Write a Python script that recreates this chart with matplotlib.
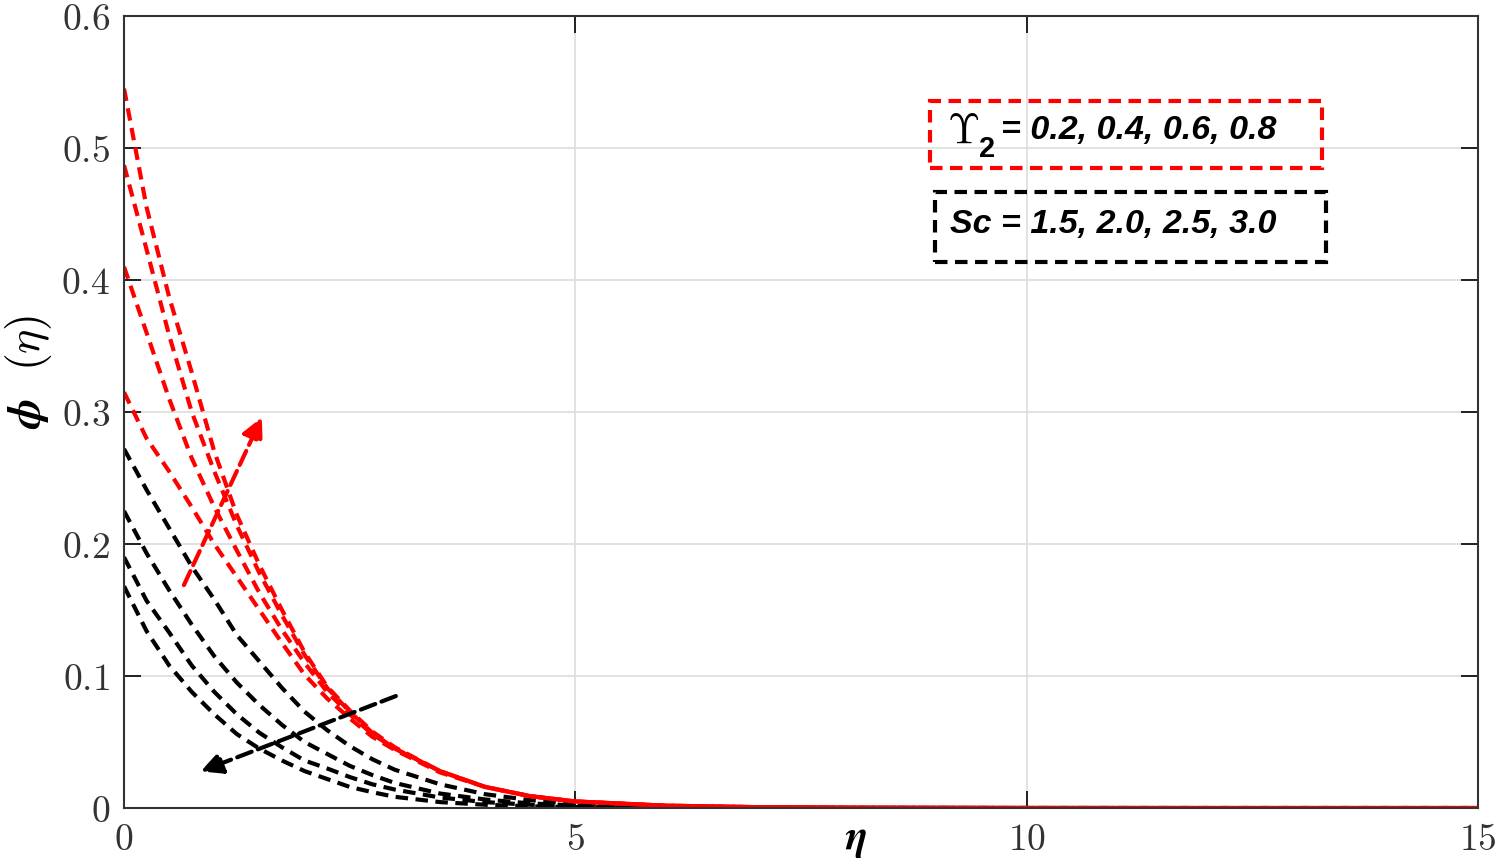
"""
concentration profile phi(eta) for several Upsilon_2 and Sc values
"""
import matplotlib
matplotlib.use("Agg")
from matplotlib import pyplot as plt
from matplotlib.patches import Rectangle
from matplotlib.ticker import FuncFormatter

plt.rcParams['mathtext.fontset'] = 'cm'

# data
eta = [0, 0.25, 0.5, 0.75, 1, 1.25, 1.5, 1.75, 2, 2.25, 2.5, 2.75, 3,
       3.5, 4, 4.5, 5, 6, 7, 8, 10, 12, 15]

# red: Upsilon_2 = 0.2, 0.4, 0.6, 0.8
phi_r1 = [0.545, 0.455, 0.387, 0.330, 0.270, 0.222, 0.184, 0.150, 0.118, 0.092,
          0.074, 0.058, 0.046, 0.028, 0.016, 0.009, 0.005, 0.0018, 0.0007,
          0.0003, 0.00005, 0, 0]
phi_r2 = [0.487, 0.423, 0.358, 0.300, 0.255, 0.214, 0.178, 0.146, 0.116, 0.091,
          0.073, 0.057, 0.045, 0.028, 0.016, 0.009, 0.005, 0.0018, 0.0007,
          0.0003, 0.00005, 0, 0]
phi_r3 = [0.410, 0.360, 0.310, 0.265, 0.228, 0.195, 0.163, 0.135, 0.110, 0.088,
          0.071, 0.056, 0.045, 0.028, 0.016, 0.009, 0.005, 0.0018, 0.0007,
          0.0003, 0.00005, 0, 0]
phi_r4 = [0.315, 0.280, 0.255, 0.228, 0.200, 0.175, 0.150, 0.125, 0.101, 0.083,
          0.068, 0.054, 0.044, 0.027, 0.016, 0.009, 0.005, 0.0018, 0.0007,
          0.0003, 0.00005, 0, 0]

# black: Sc = 1.5, 2.0, 2.5, 3.0
phi_k1 = [0.272, 0.241, 0.212, 0.183, 0.158, 0.131, 0.111, 0.091, 0.073, 0.059,
          0.047, 0.037, 0.029, 0.018, 0.0105, 0.006, 0.0035, 0.0012, 0.0004,
          0.0001, 0, 0, 0]
phi_k2 = [0.225, 0.193, 0.165, 0.139, 0.115, 0.095, 0.078, 0.063, 0.050, 0.041,
          0.032, 0.025, 0.019, 0.011, 0.0065, 0.0035, 0.002, 0.0006, 0.0002,
          0, 0, 0, 0]
phi_k3 = [0.190, 0.157, 0.133, 0.108, 0.088, 0.071, 0.057, 0.046, 0.036, 0.030,
          0.0235, 0.018, 0.014, 0.008, 0.0045, 0.0025, 0.0014, 0.0004, 0.0001,
          0, 0, 0, 0]
phi_k4 = [0.168, 0.134, 0.108, 0.088, 0.071, 0.056, 0.045, 0.036, 0.028, 0.022,
          0.016, 0.012, 0.0085, 0.0045, 0.0025, 0.0013, 0.0007, 0.0002, 0,
          0, 0, 0, 0]

fig = plt.figure(figsize=(15, 8.67), dpi=100)
ax = fig.add_axes([0.0827, 0.068, 0.9026, 0.9135])

dash = (0, (3.0, 1.8))
lw = 3.0
for y in [phi_k1, phi_k2, phi_k3, phi_k4]:
    ax.plot(eta, y, color='black', lw=lw, linestyle=dash)
for y in [phi_r1, phi_r2, phi_r3, phi_r4]:
    ax.plot(eta, y, color='red', lw=lw, linestyle=dash)

# arrows showing the trends
ax.annotate('', xy=(1.54, 0.298), xytext=(0.65, 0.167),
            arrowprops=dict(arrowstyle='-|>', color='red', lw=lw,
                            linestyle='--', mutation_scale=32))
ax.annotate('', xy=(0.82, 0.027), xytext=(3.04, 0.0856),
            arrowprops=dict(arrowstyle='-|>', color='black', lw=lw,
                            linestyle='--', mutation_scale=32))

# labels in dashed boxes
ax.add_patch(Rectangle((8.93, 0.485), 4.34, 0.051, fill=False, ec='red',
                       lw=lw, linestyle=dash, zorder=3))
ax.add_patch(Rectangle((8.98, 0.414), 4.34, 0.053, fill=False, ec='black',
                       lw=lw, linestyle=dash, zorder=3))
txt = dict(fontsize=24.5, fontweight='bold', style='italic',
           family='Liberation Sans', va='center', ha='left', zorder=4)
ax.text(9.12, 0.513, r'$\Upsilon$', fontsize=30, va='center', ha='left', zorder=4)
ax.text(9.47, 0.499, '2', fontsize=21, fontweight='bold',
        family='Liberation Sans', va='center', ha='left', zorder=4)
ax.text(9.72, 0.513, '= 0.2, 0.4, 0.6, 0.8', **txt)
ax.text(9.15, 0.442, 'Sc = 1.5, 2.0, 2.5, 3.0', **txt)

ax.set_xlim(0, 15)
ax.set_ylim(0, 0.6)
ax.set_xticks([0, 5, 10, 15])
ax.set_yticks([0, 0.1, 0.2, 0.3, 0.4, 0.5, 0.6])
fmt = FuncFormatter(lambda v, p: r'$%g$' % v)
ax.xaxis.set_major_formatter(fmt)
ax.yaxis.set_major_formatter(fmt)
ax.tick_params(direction='in', length=12, width=1.2, labelsize=27,
               top=True, right=True, labelcolor='#333333', pad=10)
ax.grid(True, color='#dddddd', lw=1.2)
ax.set_axisbelow(True)
for s in ax.spines.values():
    s.set_linewidth(1.5)
    s.set_color('#333333')

ax.set_xlabel(r'$\boldsymbol{\eta}$', fontsize=30)
ax.xaxis.set_label_coords(0.541, -0.012)
ax.set_ylabel(r'$\boldsymbol{\phi}\ \ (\eta)$', fontsize=33)
ax.yaxis.set_label_coords(-0.052, 0.55)

fig.savefig('out.png', dpi=100)
